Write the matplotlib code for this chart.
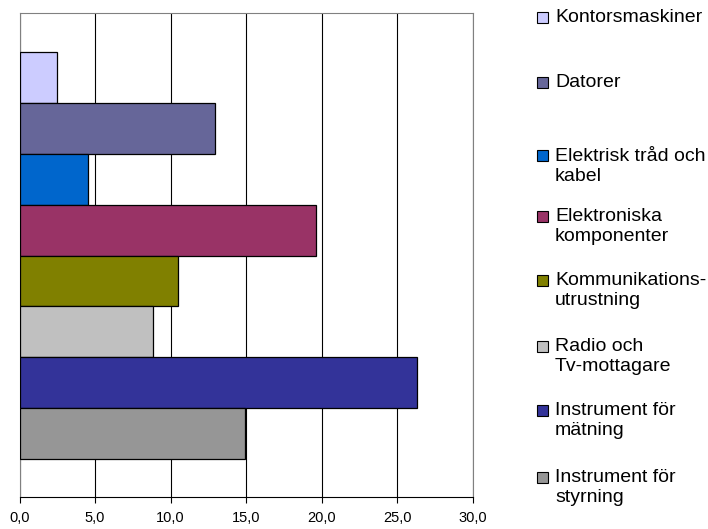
import matplotlib
matplotlib.use("Agg")
import matplotlib.pyplot as plt
from matplotlib.patches import Rectangle

plt.rcParams['font.family'] = ['Liberation Sans', 'DejaVu Sans']

# ---- data ----
categories = ["Kontorsmaskiner", "Datorer", "Elektrisk tråd och\nkabel",
              "Elektroniska\nkomponenter", "Kommunikations-\nutrustning",
              "Radio och\nTv-mottagare", "Instrument för\nmätning",
              "Instrument för\nstyrning"]
values = [2.5, 12.9, 4.5, 19.6, 10.5, 8.8, 26.3, 14.9]
colors = ["#CCCCFF", "#666699", "#0066CC", "#993366", "#808000",
          "#C0C0C0", "#333399", "#969696"]
xticks = [0, 5, 10, 15, 20, 25, 30]
xticklabels = ["0,0", "5,0", "10,0", "15,0", "20,0", "25,0", "30,0"]

# ---- layout ----
W, H = 708, 529
fig = plt.figure(figsize=(W / 100, H / 100), dpi=100)
ax = fig.add_axes([19.5 / W, 32 / H, (473 - 19.5) / W, (497 - 13) / H])

pos = list(range(len(values)))
ax.barh(pos, values, height=1.0, color=colors, edgecolor="black",
        linewidth=0.9, zorder=3)

ax.set_xlim(0, 30)
ax.set_ylim(len(values) - 0.5 + 0.74, -0.5 - 0.76)
ax.set_xticks(xticks)
ax.set_xticklabels(xticklabels, fontsize=10.5)
ax.set_yticks([])
ax.tick_params(axis="x", direction="out", length=4, width=0.8,
               color="black", pad=6)
ax.grid(axis="x", color="black", linewidth=0.8, zorder=1)
for s in ("top", "left", "right"):
    ax.spines[s].set_color("#808080")
    ax.spines[s].set_linewidth(0.8)
ax.spines["bottom"].set_color("black")
ax.spines["bottom"].set_linewidth(0.8)
ax.spines["bottom"].set_zorder(4)

# ---- legend (manually placed, Excel-like) ----
first_line_y = [17.5, 82.5, 156, 216, 280, 346, 410, 477]
line_gap = 20.5
sq = 11
for lab, col, y1 in zip(categories, colors, first_line_y):
    nlines = lab.count("\n") + 1
    yc = y1 + (nlines - 1) * line_gap / 2
    fig.patches.append(Rectangle(((537) / W, 1 - (y1 + sq / 2) / H),
                                 sq / W, sq / H, transform=fig.transFigure,
                                 facecolor=col, edgecolor="black",
                                 linewidth=0.8))
    fig.text(555 / W, 1 - yc / H, lab, fontsize=14, va="center",
             ha="left", linespacing=1.2)

fig.savefig("out.png", dpi=100)
